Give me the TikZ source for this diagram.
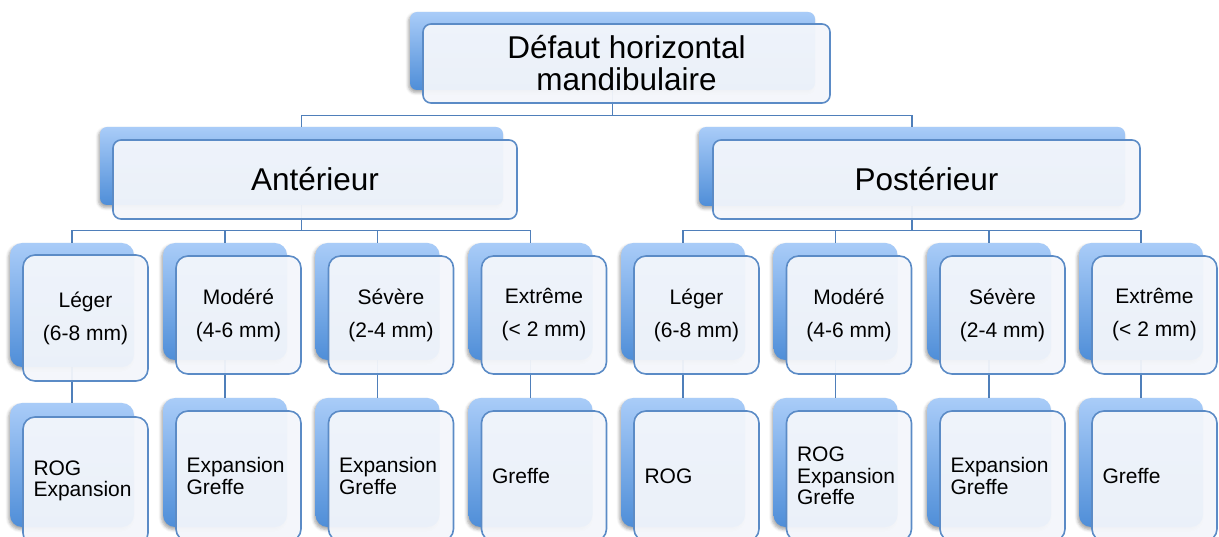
\documentclass[tikz,border=0pt]{standalone}
\usepackage{fontspec}
\setmainfont{Liberation Sans}
\usepackage{xcolor}
\usetikzlibrary{backgrounds,shadows.blur}
\definecolor{cardline}{HTML}{5B8BC6}
\definecolor{cardtop}{HTML}{A9CCF8}
\definecolor{cardbot}{HTML}{4F8ED8}
\definecolor{cardfill}{HTML}{F3F6FB}
\definecolor{linkcol}{HTML}{4F7FBA}

\begin{document}
    \begin{tikzpicture}[x=1pt,y=-1pt,
        backcard/.style={inner sep=0pt, rounded corners=7pt, top color=cardtop, bottom color=cardbot,
            blur shadow={shadow xshift=-1.5pt, shadow yshift=-2.5pt, shadow opacity=35, shadow blur radius=3pt}},
        frontcard/.style={inner sep=0pt, rounded corners=8pt, draw=cardline, line width=1.6pt,
            fill=cardfill, fill opacity=0.95, text opacity=1, align=center},
        headbox/.style={frontcard, font=\fontsize{31.5}{32}\selectfont},
        degback/.style={backcard, rounded corners=12pt, minimum width=124pt, minimum height=117pt},
        degbox/.style={frontcard, rounded corners=12pt, minimum width=125pt, minimum height=118pt,
            font=\fontsize{21}{33}\selectfont},
        trtback/.style={degback, minimum height=129pt},
        trtbox/.style={degbox, minimum height=130pt, text width=104pt, align=left,
            font=\fontsize{21}{21.5}\selectfont},
        link/.style={draw=linkcol, line width=1.8pt}]
        \useasboundingbox (0,0) rectangle (1219,537);
        \clip (0,0) rectangle (1219,537);
        \coordinate (bus0) at (0,115.5);
        \coordinate (bus1) at (0,230.5);

        \node[backcard, minimum width=405pt, minimum height=78pt] (topB) at (612.5,51) {};
        \node[headbox, minimum width=407pt, minimum height=79pt] (top) at (626.5,63.5) {D\'efaut horizontal\\mandibulaire};

        \node[backcard, minimum width=403pt, minimum height=78pt] (antB) at (301.5,166) {};
        \node[headbox, minimum width=404pt, minimum height=79pt] (ant) at (315,179.5) {Ant\'erieur};
        \node[backcard, minimum width=426pt, minimum height=79pt] (posB) at (912,166.5) {};
        \node[headbox, minimum width=427pt, minimum height=79pt] (pos) at (926.5,179.5) {Post\'erieur};

        \node[degback, minimum height=124pt] (a1b) at (72,305) {};
        \node[degbox, minimum height=126pt] (a1) at (85.5,318) {L\'eger\\(6-8 mm)};
        \node[degback] (a2b) at (225,301.5) {};
        \node[degbox] (a2) at (238.5,315) {Mod\'er\'e\\(4-6 mm)};
        \node[degback] (a3b) at (377.5,301.5) {};
        \node[degbox] (a3) at (391,315) {S\'ev\`ere\\(2-4 mm)};
        \node[degback] (a4b) at (530.5,301.5) {};
        \node[degbox] (a4) at (544,315) {Extr\^eme\\(< 2 mm)};
        \node[degback] (p1b) at (683,301.5) {};
        \node[degbox] (p1) at (696.5,315) {L\'eger\\(6-8 mm)};
        \node[degback] (p2b) at (835.5,301.5) {};
        \node[degbox] (p2) at (849,315) {Mod\'er\'e\\(4-6 mm)};
        \node[degback] (p3b) at (989,301.5) {};
        \node[degbox] (p3) at (1002.5,315) {S\'ev\`ere\\(2-4 mm)};
        \node[degback] (p4b) at (1141,301.5) {};
        \node[degbox] (p4) at (1154.5,315) {Extr\^eme\\(< 2 mm)};

        \node[trtback, minimum height=124pt] (ta1b) at (72,465) {};
        \node[trtbox, minimum height=128pt] (ta1) at (85.5,481) {ROG\\Expansion};
        \node[trtback] (ta2b) at (225,462.5) {};
        \node[trtbox] (ta2) at (238.5,476) {Expansion\\Greffe};
        \node[trtback] (ta3b) at (377.5,462.5) {};
        \node[trtbox] (ta3) at (391,476) {Expansion\\Greffe};
        \node[trtback] (ta4b) at (530.5,462.5) {};
        \node[trtbox] (ta4) at (544,476) {Greffe};
        \node[trtback] (tp1b) at (683,462.5) {};
        \node[trtbox] (tp1) at (696.5,476) {ROG};
        \node[trtback] (tp2b) at (835.5,462.5) {};
        \node[trtbox] (tp2) at (849,476) {ROG\\Expansion\\Greffe};
        \node[trtback] (tp3b) at (989,462.5) {};
        \node[trtbox] (tp3) at (1002.5,476) {Expansion\\Greffe};
        \node[trtback] (tp4b) at (1141,462.5) {};
        \node[trtbox] (tp4) at (1154.5,476) {Greffe};

        \begin{scope}[on background layer]
            \draw[link] (topB.center) -- (topB.center |- bus0) -| (antB.north);
            \draw[link] (topB.center |- bus0) -| (posB.north);
            \draw[link] (antB.center) -- (antB.center |- bus1) -| (a1b.north)
                (antB.center |- bus1) -| (a2b.north) (antB.center |- bus1) -| (a3b.north)
                (antB.center |- bus1) -| (a4b.north);
            \draw[link] (posB.center) -- (posB.center |- bus1) -| (p1b.north)
                (posB.center |- bus1) -| (p2b.north) (posB.center |- bus1) -| (p3b.north)
                (posB.center |- bus1) -| (p4b.north);
            \draw[link] (a1b.center) -- (ta1b.north);
            \draw[link] (a2b.center) -- (ta2b.north);
            \draw[link] (a3b.center) -- (ta3b.north);
            \draw[link] (a4b.center) -- (ta4b.north);
            \draw[link] (p1b.center) -- (tp1b.north);
            \draw[link] (p2b.center) -- (tp2b.north);
            \draw[link] (p3b.center) -- (tp3b.north);
            \draw[link] (p4b.center) -- (tp4b.north);
        \end{scope}
    \end{tikzpicture}
\end{document}
